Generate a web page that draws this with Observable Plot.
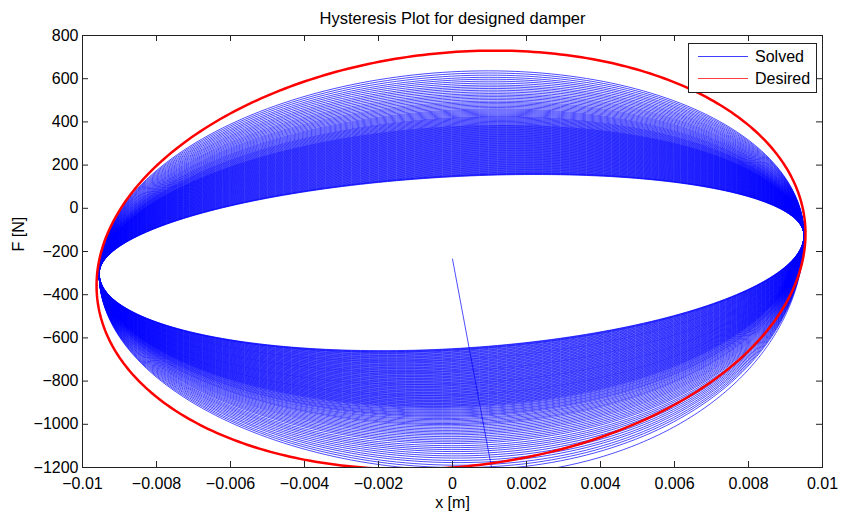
<!DOCTYPE html>
<html><head><meta charset="utf-8">
<script src="https://cdn.jsdelivr.net/npm/d3@7"></script>
<script src="https://cdn.jsdelivr.net/npm/@observablehq/plot@0.6"></script>
<style>
body{margin:0;background:#fff;}
#wrap{position:relative;width:842px;height:516px;font-family:"Liberation Sans",Arial,sans-serif;}
#legend{position:absolute;left:688px;top:43px;width:129px;height:50px;border:1px solid #222;background:#fff;box-sizing:border-box;}
#legend .lt{position:absolute;left:66px;height:20px;line-height:20px;font-size:16px;color:#000;white-space:nowrap;}
</style></head><body><div id="wrap"></div>
<script>
const titleText = "Hysteresis Plot for designed damper";
const xLabel = "x [m]";
const yLabel = "F [N]";
const xTicks = [-0.01, -0.008, -0.006, -0.004, -0.002, 0, 0.002, 0.004, 0.006, 0.008, 0.01];
const xTickLabels = ["\u22120.01","\u22120.008","\u22120.006","\u22120.004","\u22120.002","0","0.002","0.004","0.006","0.008","0.01"];
const yTicks = [-1200, -1000, -800, -600, -400, -200, 0, 200, 400, 600, 800];
const yTickLabels = ["\u22121200","\u22121000","\u2212800","\u2212600","\u2212400","\u2212200","0","200","400","600","800"];
const seriesNames = ["Solved", "Desired"];
const seriesColors = ["#0000ff", "#ff0000"];

// Solved loops: common end points, then F at x = 0 for every upper and lower half-cycle
const solvedTipX = [-0.00955, 0.0095];
const solvedTipF = [-302, -126];
const solvedStart = [0, -235];
const solvedJoinX = 0.00098;
const solvedFirstBottomF0 = -1240;
const solvedBottomSkew = 0.2; // lower half-cycles reach deeper on the right side
const solvedTopF0 = [632,622,612,602,593,584,575,566,558,550,542,534,526,519,512,505,498,491,485,479,473,467,461,455,450,445,440,435,430,425,420,416,412,408,404,400,396,392,388,384,380,377,374,371,368,365,362,359,356,353,350,347,344,341,338,335,332,329,326,323,320,317,314,311,308,305,302,299,296,293,290,287,284,281,278,275,272,269,266,263,260,257,254,251,248,245,242,239,236,233,230,227,224,221,218,215,212,209,206,203,200,197,194,191,188,185,182,179,176,173,170,167,164,161,158,155,152,150,148,146];
const solvedBottomF0 = [-1212,-1200,-1189,-1177,-1167,-1156,-1146,-1136,-1126,-1117,-1108,-1099,-1089,-1081,-1073,-1065,-1057,-1049,-1042,-1035,-1028,-1021,-1014,-1007,-1001,-996,-990,-984,-978,-973,-967,-962,-958,-953,-948,-944,-939,-934,-930,-925,-921,-917,-914,-910,-907,-903,-900,-896,-893,-889,-886,-882,-879,-875,-872,-868,-865,-862,-858,-855,-851,-848,-844,-841,-837,-834,-830,-827,-823,-820,-816,-813,-810,-806,-803,-799,-796,-792,-789,-785,-782,-778,-775,-771,-768,-764,-761,-757,-754,-751,-747,-744,-740,-737,-733,-730,-726,-723,-719,-716,-712,-709,-705,-702,-699,-695,-692,-688,-685,-681,-678,-674,-671,-667,-664,-660,-657,-655,-652,-650];

// Desired loop: end points and F at x = 0 (upper, lower)
const desiredTipX = [-0.00962, 0.00954];
const desiredTipF = [-358, -118];
const desiredF0 = [723, -1200];

function arc(tipX, tipF, f0, from, to, steps, skew = 0, refAmp = 0) {
  const xc = (tipX[0] + tipX[1]) / 2, a = (tipX[1] - tipX[0]) / 2;
  const base = x => tipF[0] + (tipF[1] - tipF[0]) * (x - tipX[0]) / (tipX[1] - tipX[0]);
  const amp0 = Math.abs(f0 - base(0));
  const k = skew * Math.max(0, amp0 - refAmp);
  const pts = [];
  for (let i = 0; i <= steps; i++) {
    const t = from + (to - from) * i / steps;
    const u = Math.cos(t);
    const x = xc + a * u;
    pts.push({x, y: base(x) + (amp0 + k * u) * Math.sin(t)});
  }
  return pts;
}

const baseAt0 = solvedTipF[0] + (solvedTipF[1] - solvedTipF[0]) * (0 - solvedTipX[0]) / (solvedTipX[1] - solvedTipX[0]);
const innerBottomAmp = baseAt0 - solvedBottomF0[solvedBottomF0.length - 1];
const solved = [{x: solvedStart[0], y: solvedStart[1]}];
solved.push(...arc(solvedTipX, solvedTipF, solvedFirstBottomF0, Math.PI, 2 * Math.PI, 240, solvedBottomSkew, innerBottomAmp).filter(p => p.x >= solvedJoinX));
const nCycles = Math.min(solvedTopF0.length, solvedBottomF0.length);
for (let n = 0; n < nCycles; n++) {
  solved.push(...arc(solvedTipX, solvedTipF, solvedTopF0[n], 0, Math.PI, 120));
  solved.push(...arc(solvedTipX, solvedTipF, solvedBottomF0[n], Math.PI, 2 * Math.PI, 120, solvedBottomSkew, innerBottomAmp));
}
const desired = [
  ...arc(desiredTipX, desiredTipF, desiredF0[0], 0, Math.PI, 200),
  ...arc(desiredTipX, desiredTipF, desiredF0[1], Math.PI, 2 * Math.PI, 200)
];

const axisColor = "#222";
const chart = Plot.plot({
  width: 842, height: 516,
  marginLeft: 82, marginRight: 20, marginTop: 35, marginBottom: 49,
  style: {fontFamily: '"Liberation Sans", Arial, sans-serif', fontSize: "16px", background: "#fff", color: "#000", overflow: "visible"},
  x: {domain: [-0.01, 0.01], label: null},
  y: {domain: [-1200, 800], label: null},
  marks: [
    Plot.line(solved, {x: "x", y: "y", stroke: seriesColors[0], strokeWidth: 0.7, clip: true}),
    Plot.line(desired, {x: "x", y: "y", stroke: seriesColors[1], strokeWidth: 2.5, clip: true}),
    Plot.frame({stroke: axisColor}),
    Plot.tickX(xTicks, {x: d => d, insetTop: 426, stroke: axisColor}),
    Plot.tickX(xTicks, {x: d => d, insetBottom: 426, stroke: axisColor}),
    Plot.tickY(yTicks, {y: d => d, insetRight: 734, stroke: axisColor}),
    Plot.tickY(yTicks, {y: d => d, insetLeft: 734, stroke: axisColor}),
    Plot.axisX(xTicks, {anchor: "bottom", tickSize: 0, tickPadding: 10, label: null, fontSize: 16,
      tickFormat: d => xTickLabels[xTicks.indexOf(d)]}),
    Plot.axisY(yTicks, {anchor: "left", tickSize: 0, tickPadding: 4, label: null, fontSize: 16,
      tickFormat: d => yTickLabels[yTicks.indexOf(d)]}),
    Plot.text([titleText], {text: d => d, frameAnchor: "top", dy: -23, fontSize: 16.5}),
    Plot.text([xLabel], {text: d => d, frameAnchor: "bottom", dy: 40, fontSize: 16}),
    Plot.text([yLabel], {text: d => d, frameAnchor: "left", dx: -64, rotate: -90, fontSize: 16})
  ]
});
const wrap = document.getElementById("wrap");
wrap.appendChild(chart);

// legend
const legend = document.createElement("div");
legend.id = "legend";
const ns = "http://www.w3.org/2000/svg";
const lsvg = document.createElementNS(ns, "svg");
lsvg.setAttribute("width", 127); lsvg.setAttribute("height", 48);
lsvg.style.position = "absolute"; lsvg.style.left = "0"; lsvg.style.top = "0";
legend.appendChild(lsvg);
seriesNames.forEach((name, i) => {
  const cy = 12.5 + i * 22;
  const ln = document.createElementNS(ns, "line");
  ln.setAttribute("x1", 9); ln.setAttribute("x2", 59);
  ln.setAttribute("y1", cy); ln.setAttribute("y2", cy);
  ln.setAttribute("stroke", seriesColors[i]); ln.setAttribute("stroke-width", 1);
  ln.setAttribute("stroke-opacity", 0.75);
  lsvg.appendChild(ln);
  const t = document.createElement("div");
  t.className = "lt"; t.textContent = name;
  t.style.top = (cy - 10) + "px";
  legend.appendChild(t);
});
wrap.appendChild(legend);
</script>
</body></html>
